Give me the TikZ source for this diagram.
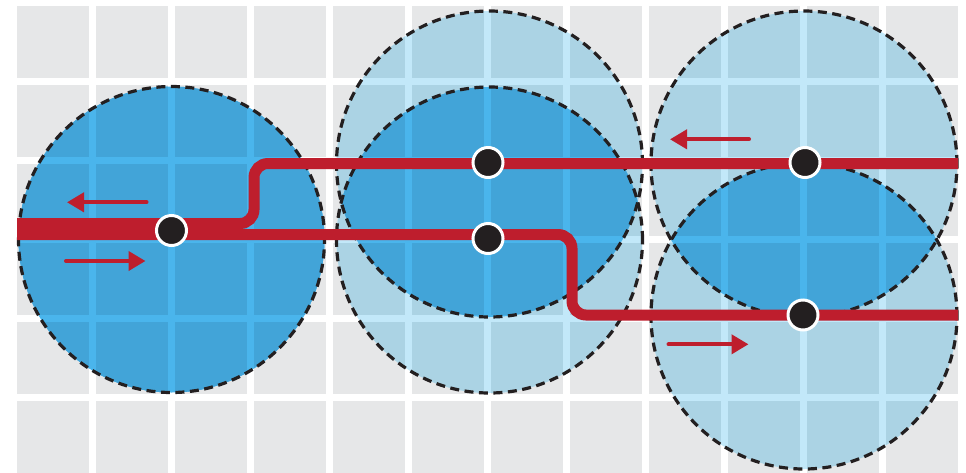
\documentclass[tikz,border=0pt]{standalone}
\usetikzlibrary{arrows.meta}
\definecolor{gridgray}{RGB}{230,231,232}
\definecolor{lightsq}{RGB}{171,211,228}
\definecolor{lightgap}{RGB}{194,232,249}
\definecolor{darksq}{RGB}{66,164,216}
\definecolor{darkgap}{RGB}{74,181,236}
\definecolor{routered}{RGB}{190,30,45}
\definecolor{nodeblack}{RGB}{35,31,32}
\newcommand{\gridcells}[1]{%
  \foreach \i in {0,...,11}{\foreach \j in {0,...,5}{%
    \fill[#1] ({17+79*\i},{6+79*\j}) rectangle ++(72,72);}}}
\tikzset{
  cover/.style={draw=nodeblack, line width=3.2pt, dash pattern=on 9pt off 5.5pt},
  route/.style={draw=routered, line width=11pt, rounded corners=14pt},
  flow/.style={draw=routered, line width=4pt, line cap=round, -{Triangle[length=17pt,width=19pt]}},
  station/.style={circle, fill=nodeblack, draw=white, line width=3pt, minimum size=30pt, inner sep=0pt}
}
\begin{document}
\begin{tikzpicture}[x=1pt,y=-1pt]
\useasboundingbox (0,0) rectangle (966,472);
\fill[white] (0,0) rectangle (966,472);
\gridcells{gridgray}
% coverage centres
\coordinate (c1) at (171.5,239.5);
\coordinate (cA) at (489.5,164);
\coordinate (cB) at (489.5,240);
\coordinate (cC) at (804,164);
\coordinate (cD) at (804,316);
% light (single coverage) regions
\begin{scope}
  \clip (cA) circle (153pt) (cB) circle (153pt) (cC) circle (153pt) (cD) circle (153pt);
  \fill[lightgap] (0,0) rectangle (966,472);
  \gridcells{lightsq}
\end{scope}
% dark (double coverage) regions
\begin{scope}
  \clip (c1) circle (153pt);
  \fill[darkgap] (0,0) rectangle (966,472);
  \gridcells{darksq}
\end{scope}
\begin{scope}
  \clip (cA) circle (153pt);
  \clip (cB) circle (153pt);
  \fill[darkgap] (0,0) rectangle (966,472);
  \gridcells{darksq}
\end{scope}
\begin{scope}
  \clip (cC) circle (153pt);
  \clip (cD) circle (153pt);
  \fill[darkgap] (0,0) rectangle (966,472);
  \gridcells{darksq}
\end{scope}
% dashed outlines
\foreach \c in {c1,cA,cB,cC,cD} \draw[cover] (\c) circle (153pt);
% routes
\coordinate (u0) at (17,223.5);
\coordinate (u1) at (254,223.5);
\coordinate (u2) at (254,163.5);
\coordinate (u3) at (958,163.5);
\coordinate (l0) at (17,234.5);
\coordinate (l1) at (572,234.5);
\coordinate (l2) at (572,315);
\coordinate (l3) at (958,315);
\draw[route] (u0) -- (u1) -- (u2) -- (u3);
\draw[route] (l0) -- (l1) -- (l2) -- (l3);
% direction arrows
\coordinate (a1s) at (146.5,202.3); \coordinate (a1e) at (67,202.3);
\coordinate (a2s) at (66,261); \coordinate (a2e) at (145.5,261);
\coordinate (a3s) at (749,139.3); \coordinate (a3e) at (670,139.3);
\coordinate (a4s) at (668.5,344.3); \coordinate (a4e) at (748.5,344.3);
\draw[flow] (a1s) -- (a1e);
\draw[flow] (a2s) -- (a2e);
\draw[flow] (a3s) -- (a3e);
\draw[flow] (a4s) -- (a4e);
% stations
\node[station] (s1) at (171.5,230.5) {};
\node[station] (s2) at (488,162.5) {};
\node[station] (s3) at (488,238.5) {};
\node[station] (s4) at (805,162.5) {};
\node[station] (s5) at (803,315) {};
\end{tikzpicture}
\end{document}
